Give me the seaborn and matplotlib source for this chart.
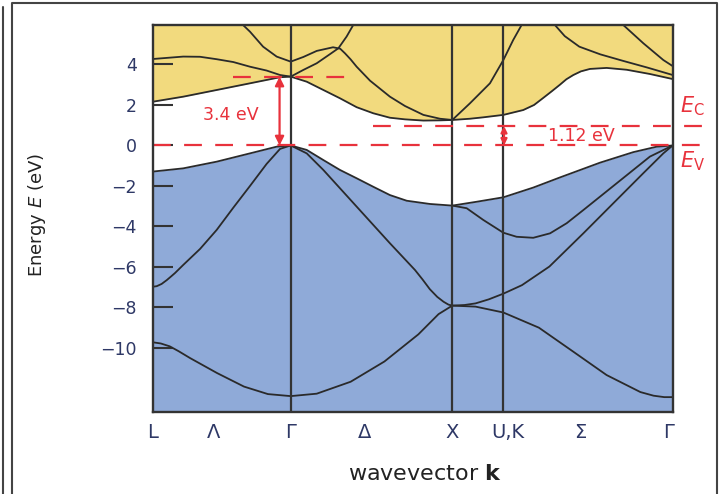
import matplotlib.pyplot as plt
import pandas as pd
import seaborn as sns
from matplotlib.lines import Line2D

# symmetry points along the path, Gamma-X taken as 1
K_L, K_G, K_X, K_UK, K_G2 = 0.0, 0.854, 1.854, 2.170, 3.218

K_TICK_POS = [0.0, 0.375, 0.854, 1.313, 1.854, 2.199, 2.645, 3.19]
K_TICK_LABELS = ["L", "Λ", "Γ", "Δ", "X", "U,K", "Σ", "Γ"]

E_TICKS = [4, 2, 0, -2, -4, -6, -8, -10]
E_TICK_LABELS = ["4", "2", "0", "−2", "−4", "−6", "−8", "−10"]

E_V = 0.0
E_C = 0.96      # where the dashed Ec line sits in the picture
E_GAMMA = 3.4   # direct gap at Gamma

# conduction bands
cb1_k = [0.000, 0.189, 0.396, 0.602, 0.788, 0.854, 0.953, 1.056, 1.159, 1.262, 1.365, 1.468, 1.561,
         1.675, 1.778, 1.854, 1.963, 2.046, 2.170, 2.293, 2.360, 2.417, 2.470, 2.520, 2.560, 2.603,
         2.650, 2.706, 2.809, 2.933, 3.077, 3.218]
cb1_e = [2.16, 2.41, 2.74, 3.07, 3.37, 3.40, 3.15, 2.74, 2.33, 1.89, 1.59, 1.37, 1.29,
         1.23, 1.24, 1.26, 1.32, 1.39, 1.51, 1.75, 2.00, 2.35, 2.68, 3.00, 3.27, 3.48,
         3.66, 3.78, 3.83, 3.74, 3.53, 3.28]

cb2_k = [0.000, 0.189, 0.293, 0.396, 0.499, 0.602, 0.705, 0.788, 0.854, 0.932, 1.015, 1.097, 1.149,
         1.200, 1.241, 1.270]
cb2_e = [4.27, 4.39, 4.38, 4.26, 4.12, 3.89, 3.70, 3.48, 3.40, 3.73, 4.06, 4.51, 4.80,
         5.38, 5.95, 6.40]

cb3_k = [0.530, 0.559, 0.602, 0.683, 0.767, 0.854, 0.932, 1.015, 1.116, 1.160, 1.190, 1.225, 1.262,
         1.345, 1.468, 1.561, 1.675, 1.778, 1.854]
cb3_e = [6.40, 5.95, 5.62, 4.88, 4.39, 4.14, 4.37, 4.67, 4.85, 4.78, 4.55, 4.25, 3.89,
         3.20, 2.41, 1.95, 1.51, 1.32, 1.26]

cb4_k = [1.854, 1.963, 2.087, 2.170, 2.231, 2.283, 2.310]
cb4_e = [1.26, 2.08, 3.07, 4.22, 5.21, 5.95, 6.40]

cb5_k = [2.460, 2.489, 2.550, 2.640, 2.770, 2.910, 3.060, 3.218]
cb5_e = [6.40, 5.95, 5.40, 4.88, 4.50, 4.18, 3.85, 3.48]

cb6_k = [2.880, 2.912, 3.036, 3.160, 3.218]
cb6_e = [6.40, 5.95, 5.05, 4.22, 3.92]

# valence bands
vb1_k = [0.000, 0.189, 0.396, 0.602, 0.767, 0.854, 0.953, 1.056, 1.159, 1.262, 1.365, 1.468, 1.572,
         1.716, 1.854, 2.005, 2.170, 2.355, 2.520, 2.768, 2.974, 3.119, 3.218]
vb1_e = [-1.29, -1.13, -0.80, -0.39, -0.06, 0.00, -0.22, -0.72, -1.21, -1.62, -2.04, -2.45, -2.73,
         -2.89, -2.97, -2.78, -2.56, -2.08, -1.58, -0.85, -0.33, -0.06, 0.00]

vb2_k = [0.000, 0.025, 0.055, 0.087, 0.115, 0.138, 0.189, 0.293, 0.396, 0.499, 0.602, 0.705, 0.788,
         0.854, 0.953, 1.056, 1.262, 1.468, 1.623, 1.670, 1.715, 1.761, 1.800, 1.830, 1.854]
vb2_e = [-6.98, -6.95, -6.84, -6.65, -6.46, -6.30, -5.90, -5.11, -4.17, -3.07, -2.00, -0.91, -0.17,
         0.00, -0.39, -1.21, -3.02, -4.83, -6.15, -6.62, -7.10, -7.48, -7.72, -7.86, -7.91]

vb3_k = [0.000, 0.050, 0.105, 0.160, 0.231, 0.398, 0.565, 0.713, 0.854, 1.015, 1.225, 1.434, 1.644,
         1.769, 1.854]
vb3_e = [-9.72, -9.78, -9.92, -10.16, -10.50, -11.24, -11.91, -12.28, -12.38, -12.26, -11.67, -10.67,
         -9.33, -8.33, -7.91]

vb4_k = [1.854, 1.930, 1.998, 2.080, 2.170, 2.285, 2.455, 2.665, 2.871, 3.036, 3.160, 3.218]
vb4_e = [-7.91, -7.88, -7.80, -7.60, -7.32, -6.90, -5.98, -4.34, -2.69, -1.37, -0.39, 0.00]

vb5_k = [1.854, 1.998, 2.170, 2.390, 2.600, 2.809, 3.018, 3.100, 3.166, 3.218]
vb5_e = [-7.91, -7.96, -8.25, -9.00, -10.17, -11.34, -12.18, -12.36, -12.43, -12.43]

vb6_k = [1.854, 1.943, 2.046, 2.170, 2.252, 2.355, 2.459, 2.562, 2.665, 2.768, 2.871, 2.974, 3.077, 3.218]
vb6_e = [-2.97, -3.10, -3.68, -4.31, -4.51, -4.56, -4.34, -3.84, -3.19, -2.53, -1.87, -1.21, -0.55, 0.00]

YELLOW = "#F2DA7E"
BLUE = "#8FAAD8"
RED = "#E8323C"
NAVY = "#2E3866"
DARK = "#2A2A2A"

sns.set_theme(style="white")
plt.rcParams["font.family"] = ["DejaVu Sans"]
plt.rcParams["mathtext.fontset"] = "dejavusans"

band_list = [
    ("cb1", cb1_k, cb1_e), ("cb2", cb2_k, cb2_e), ("cb3", cb3_k, cb3_e),
    ("cb4", cb4_k, cb4_e), ("cb5", cb5_k, cb5_e), ("cb6", cb6_k, cb6_e),
    ("vb1", vb1_k, vb1_e), ("vb2", vb2_k, vb2_e), ("vb3", vb3_k, vb3_e),
    ("vb4", vb4_k, vb4_e), ("vb5", vb5_k, vb5_e), ("vb6", vb6_k, vb6_e),
]
bands = pd.concat(
    [pd.DataFrame({"k": ks, "E": es, "band": name}) for name, ks, es in band_list],
    ignore_index=True,
)

fig = plt.figure(figsize=(7.19, 4.94), dpi=100)
ax = fig.add_axes([0.2124, 0.1670, 0.7232, 0.7824])

# shaded conduction / valence regions
ax.fill_between(cb1_k, cb1_e, 8, color=YELLOW, lw=0, zorder=0)
ax.fill_between(vb1_k, -14, vb1_e, color=BLUE, lw=0, zorder=0)

sns.lineplot(data=bands, x="k", y="E", units="band", estimator=None, sort=False,
             color=DARK, lw=1.3, ax=ax, legend=False, zorder=2)

for k in [K_G, K_X, K_UK]:
    ax.axvline(k, color="#333333", lw=1.6, zorder=3)

# band edges and gaps
ax.plot([K_L, 3.436], [E_V, E_V], color=RED, lw=1.6, dashes=(8, 6), clip_on=False, zorder=4)
ax.plot([1.363, 3.436], [E_C, E_C], color=RED, lw=1.6, dashes=(8, 6), clip_on=False, zorder=4)
ax.plot([0.499, 1.20], [E_GAMMA, E_GAMMA], color=RED, lw=1.6, dashes=(8, 6), zorder=4)

ax.annotate("", xy=(0.785, E_GAMMA), xytext=(0.785, E_V),
            arrowprops=dict(arrowstyle="<|-|>", color=RED, lw=1.6, mutation_scale=13,
                            shrinkA=0, shrinkB=0), zorder=5)
ax.annotate("", xy=(2.174, E_C), xytext=(2.174, E_V),
            arrowprops=dict(arrowstyle="<|-|>", color=RED, lw=1.6, mutation_scale=9,
                            shrinkA=0, shrinkB=0), zorder=5)
ax.text(0.485, 1.51, "3.4 eV", color=RED, fontsize=12.5, ha="center", va="center")
ax.text(2.654, 0.47, "1.12 eV", color=RED, fontsize=12.5, ha="center", va="center")
ax.text(3.263, 1.61, r"$E_{\mathrm{C}}$", color=RED, fontsize=15, ha="left", va="baseline",
        clip_on=False)
ax.text(3.263, -1.06, r"$E_{\mathrm{V}}$", color=RED, fontsize=15, ha="left", va="baseline",
        clip_on=False)

ax.set_xlim(K_L, K_G2)
ax.set_ylim(-13.14, 5.95)
ax.set_yticks(E_TICKS, labels=E_TICK_LABELS)
ax.set_xticks(K_TICK_POS, labels=K_TICK_LABELS)
ax.tick_params(axis="y", direction="in", length=14.4, width=1.5, color="#333333",
               pad=11.5, labelsize=12.5, labelcolor=NAVY, left=True)
ax.tick_params(axis="x", length=0, pad=8.5, labelsize=14, labelcolor=NAVY)
ax.set_xlabel("")
ax.set_ylabel("")
for spine in ax.spines.values():
    spine.set_visible(True)
    spine.set_color("#333333")
    spine.set_linewidth(1.7)
    spine.set_zorder(6)

fig.text(425 / 719, 1 - 480 / 494, r"wavevector $\mathbf{k}$", ha="center", va="baseline",
         fontsize=16, color="#222222")
fig.text(37 / 719, 1 - 215 / 494, r"Energy $E$ (eV)", rotation=90, ha="center", va="center",
         fontsize=13, color="#222222")

# panel frame
fig.add_artist(Line2D([0.0163, 0.0163, 0.9968, 0.9968], [0.0, 0.9945, 0.9945, 0.0],
                      transform=fig.transFigure, color="#444444", lw=1.5))
fig.add_artist(Line2D([0.0046, 0.0046], [0.0, 0.986], transform=fig.transFigure,
                      color="#444444", lw=1.5))

fig.savefig("out.png", dpi=100)
